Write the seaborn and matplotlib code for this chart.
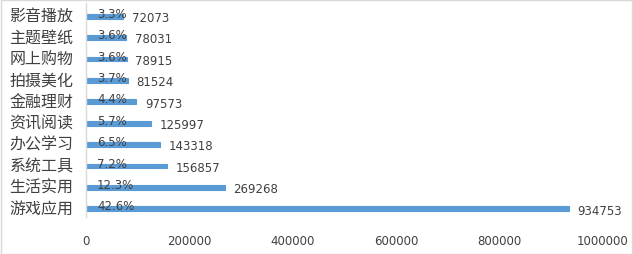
import matplotlib
matplotlib.use("Agg")
import matplotlib.pyplot as plt
import seaborn as sns
import pandas as pd
from matplotlib.patches import Rectangle

categories = ["影音播放", "主题壁纸", "网上购物", "拍摄美化", "金融理财",
              "资讯阅读", "办公学习", "系统工具", "生活实用", "游戏应用"]
counts = [72073, 78031, 78915, 81524, 97573, 125997, 143318, 156857, 269268, 934753]
shares = [0.033, 0.036, 0.036, 0.037, 0.044, 0.057, 0.065, 0.072, 0.123, 0.426]
share_labels = ["3.3%", "3.6%", "3.6%", "3.7%", "4.4%", "5.7%", "6.5%", "7.2%", "12.3%", "42.6%"]
xticks = [0, 200000, 400000, 600000, 800000, 1000000]

BLUE = "#5B9BD5"
ORANGE = "#ED7D31"
TEXT = "#404040"
NUMFONT = ["DejaVu Sans"]

sns.set_theme(style="white")
plt.rcParams["font.family"] = ["Noto Sans CJK SC", "DejaVu Sans"]

df = pd.DataFrame({
    "cat": categories * 2,
    "value": shares + counts,
    "series": ["占比"] * len(categories) + ["数量"] * len(categories),
})

fig = plt.figure(figsize=(6.33, 2.55), dpi=100)
ax = fig.add_axes([86 / 633, 1 - 218 / 255, 517 / 633, 214 / 255])

sns.barplot(data=df, y="cat", x="value", hue="series", hue_order=["占比", "数量"],
            order=categories, palette=[ORANGE, BLUE], width=0.46, dodge=True,
            orient="h", ax=ax, legend=False, saturation=1)

for p in ax.patches:
    fc = p.get_facecolor()
    p.set_edgecolor(fc)
    p.set_linewidth(0.8)

ax.set_xlim(0, 1000000)
ax.set_ylim(len(categories) - 0.5, -0.5)
ax.set_xticks(xticks)
ax.set_xticklabels([str(t) for t in xticks], fontsize=8.5, color=TEXT, family=NUMFONT)
ax.tick_params(axis="x", length=0, pad=12)
ax.tick_params(axis="y", length=0, pad=9, labelsize=11.5, labelcolor=TEXT)
ax.set_xlabel("")
ax.set_ylabel("")
for s in ["top", "right", "bottom"]:
    ax.spines[s].set_visible(False)
ax.spines["left"].set_color("#D9D9D9")
ax.spines["left"].set_linewidth(1)

off = 0.46 / 4
for i, (c, lab) in enumerate(zip(counts, share_labels)):
    ax.annotate(lab, (0, i - off), xytext=(8, -1.5), textcoords="offset points",
                ha="left", va="center", fontsize=8.5, color=TEXT, family=NUMFONT)
    ax.annotate(str(c), (c, i + off), xytext=(6, -1), textcoords="offset points",
                ha="left", va="center", fontsize=8.5, color=TEXT, family=NUMFONT)

fig.patches.append(Rectangle((0.5 / 633, 0.5 / 255), 631.5 / 633, 253.5 / 255,
                             transform=fig.transFigure, fill=False,
                             edgecolor="#D9D9D9", linewidth=1))

fig.savefig("out.png", dpi=100)
